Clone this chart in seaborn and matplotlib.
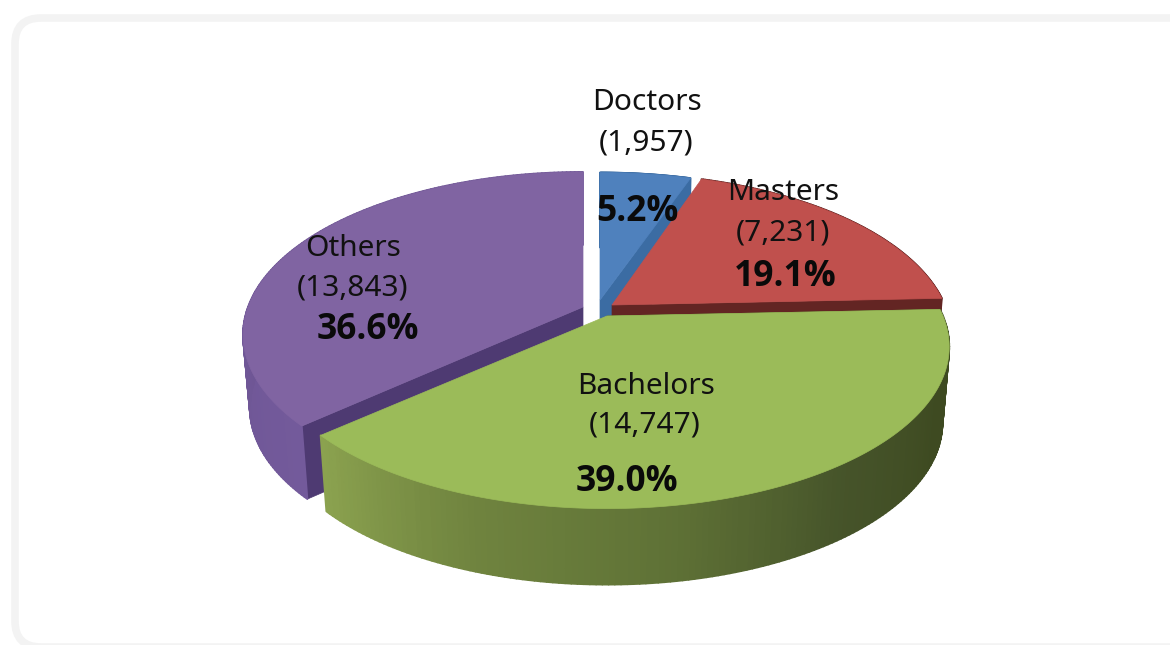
# -*- coding: utf-8 -*-
import numpy as np
import matplotlib
matplotlib.use("Agg")
import matplotlib.pyplot as plt
from matplotlib.collections import PolyCollection
from matplotlib.patches import FancyBboxPatch
import seaborn as sns

# data
degrees = ["Doctors", "Masters", "Bachelors", "Others"]
counts = [1957, 7231, 14747, 13843]

# look of each slice
top_colors = ["#4f81bd", "#c0504d", "#9bbb59", "#8064a2"]
cut_colors = ["#3b6ca3", "#632523", "#4f6228", "#4e3a72"]
rim_colors = [
    ["#3b6ca3", "#3b6ca3"],
    ["#632523", "#632523"],
    ["#3e4a21", "#3e4a21", "#46542a", "#5f7236", "#70843f", "#8ba24f"],
    ["#735a9b", "#6c5492", "#6f5796"],
]

# pixel geometry of each slice: apex x, apex y, half width, half height, tilt
apex_x = [600, 612, 607, 583]
apex_y = [300, 305, 316, 307]
half_w = [337, 333, 336, 335]
half_h = [153, 158, 156, 158]
tilt = [0.20, 0.20, 0.19, 0.17]
depth = [75, 75, 76, 73]
BOTTOM_SHRINK = 0.98

sns.set_theme(style="white")
plt.rcParams["font.family"] = ["Noto Sans", "DejaVu Sans"]

total = sum(counts)
edges = 2 * np.pi * np.cumsum([0] + counts) / total


def rim(i, ang, lower=False):
    # clockwise from 12 o'clock, squashed with a little perspective
    x = np.sin(ang)
    y = np.cos(ang)
    w = 1 + tilt[i] * y
    if lower:
        return (apex_x[i] + BOTTOM_SHRINK * half_w[i] * x / w,
                apex_y[i] + depth[i] - half_h[i] * y / w)
    return apex_x[i] + half_w[i] * x / w, apex_y[i] - half_h[i] * y / w


def draw_slice(ax, i, cut_at):
    ang = np.linspace(edges[i], edges[i + 1], 161)
    tx, ty = rim(i, ang)
    bx, by = rim(i, ang, lower=True)

    # the cut side, from apex out to the rim
    k = -1 if cut_at == "end" else 0
    ax.fill([apex_x[i], tx[k], bx[k], apex_x[i]],
            [apex_y[i], ty[k], by[k], apex_y[i] + depth[i]],
            color=cut_colors[i], lw=0.5, zorder=i_order[i])

    # the outer wall, shaded along the angle
    shades = sns.blend_palette(rim_colors[i], n_colors=len(ang) - 1)
    quads = [[(tx[j], ty[j]), (tx[j + 1], ty[j + 1]), (bx[j + 1], by[j + 1]), (bx[j], by[j])]
             for j in range(len(ang) - 1)]
    ax.add_collection(PolyCollection(quads, facecolors=shades, edgecolors=shades,
                                     linewidths=1.3, zorder=i_order[i]))

    # the top
    ax.fill(np.r_[apex_x[i], tx], np.r_[apex_y[i], ty],
            color=top_colors[i], lw=0.5, zorder=i_order[i] + 0.5)


fig, ax = plt.subplots(figsize=(11.7, 6.45), dpi=100)
ax.set_position([0, 0, 1, 1])
ax.set_xlim(0, 1170)
ax.set_ylim(645, 0)
ax.axis("off")

# rounded card round the chart
ax.add_patch(FancyBboxPatch((40, 43), 1200, 579, boxstyle="round,pad=25,rounding_size=26",
                            fc="white", ec="#f3f3f3", lw=5.5, zorder=0))

i_order = {0: 1, 3: 2, 1: 3, 2: 4}
draw_slice(ax, 0, "end")
draw_slice(ax, 3, "start")
draw_slice(ax, 1, "end")
draw_slice(ax, 2, "start")

# labels
name_xy = [(647, 102), (783, 193), (646, 386), (353, 249)]
count_xy = [(646, 143), (783, 233), (645, 425), (353, 288)]
pct_xy = [(637, 212), (785, 277), (627, 482), (368, 330)]
for i in range(len(degrees)):
    ax.text(*name_xy[i], degrees[i], ha="center", va="center", fontsize=21.5, color="#111111", zorder=10)
    ax.text(*count_xy[i], f"({counts[i]:,})", ha="center", va="center", fontsize=21.5, color="#111111", zorder=10)
    ax.text(*pct_xy[i], f"{100 * counts[i] / total:.1f}%", ha="center", va="center",
            fontsize=25.5, fontweight="bold", family=["Open Sans", "DejaVu Sans"], color="#0a0a0a", zorder=10)

fig.savefig("out.png", dpi=100)
